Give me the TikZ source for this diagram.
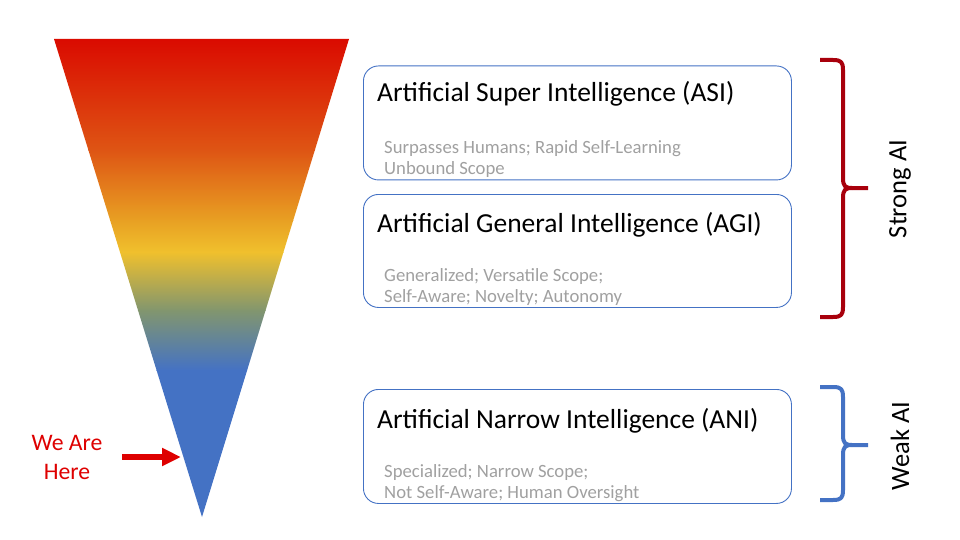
\documentclass[tikz,border=0pt]{standalone}
\usepackage{fontspec}
\setmainfont{Carlito}
\usetikzlibrary{arrows.meta}
\definecolor{cRed}{RGB}{218,10,0}
\definecolor{cOrR}{RGB}{222,85,20}
\definecolor{cOr}{RGB}{232,160,35}
\definecolor{cYel}{RGB}{240,192,45}
\definecolor{cGrn}{RGB}{130,150,110}
\definecolor{cBlue}{RGB}{68,114,196}
\definecolor{boxblue}{RGB}{68,114,196}
\definecolor{subgray}{RGB}{160,160,160}
\definecolor{braceRed}{RGB}{168,0,12}
\definecolor{hereRed}{RGB}{222,0,0}
\tikzset{
  aibox/.style={draw=boxblue, line width=0.9pt, rounded corners=15pt, minimum width=428pt, inner sep=0pt},
  titletext/.style={anchor=base west, inner sep=0pt, font=\fontsize{27.5}{32}\selectfont, text=black},
  subtext/.style={anchor=base west, inner sep=0pt, font=\fontsize{18.7}{20.5}\selectfont, text=subgray, align=left},
  bracetext/.style={rotate=90, inner sep=0pt, font=\fontsize{26.5}{30}\selectfont, text=black},
  brace/.style={line width=4pt, line cap=butt, line join=round}
}
\begin{document}
\begin{tikzpicture}[x=1pt,y=-1pt]
\useasboundingbox (0,0) rectangle (960,540);
% funnel
\begin{scope}
\clip (54,39) -- (349,39) -- (202,517) -- cycle;
\shade[top color=cRed, bottom color=cOrR] (40,38) rectangle (360,150.5);
\shade[top color=cOrR, bottom color=cOr] (40,150) rectangle (360,220.5);
\shade[top color=cOr, bottom color=cYel] (40,220) rectangle (360,252.5);
\shade[top color=cYel, bottom color=cGrn] (40,252) rectangle (360,310.5);
\shade[top color=cGrn, bottom color=cBlue] (40,310) rectangle (360,370.5);
\fill[cBlue] (40,370) rectangle (360,520);
\end{scope}
\coordinate (tip) at (181,457);
% we are here
\node[text=hereRed, font=\fontsize{23.7}{28.5}\selectfont, align=center, inner sep=0pt, anchor=base] (here) at (67,479) {We Are\\Here};
\coordinate (arrstart) at (122,457);
\draw[hereRed, line width=6.5pt, -{Triangle[length=19pt,width=17pt]}] (arrstart) -- (tip);
% boxes
\node[aibox, minimum height=114pt, anchor=north west] (asi) at (363,65.5) {};
\node[aibox, minimum height=113pt, anchor=north west] (agi) at (363,194) {};
\node[aibox, minimum height=114pt, anchor=north west] (ani) at (363,389) {};
\node[titletext] (asiT) at (377,102) {Artificial Super Intelligence (ASI)};
\node[subtext] (asiS) at (384,174.5) {Surpasses Humans; Rapid Self-Learning\\Unbound Scope};
\node[titletext] (agiT) at (377,232) {Artificial General Intelligence (AGI)};
\node[subtext] (agiS) at (384,302) {Generalized; Versatile Scope;\\Self-Aware; Novelty; Autonomy};
\node[titletext] (aniT) at (377,428) {Artificial Narrow Intelligence (ANI)};
\node[subtext] (aniS) at (384,498) {Specialized; Narrow Scope;\\Not Self-Aware; Human Oversight};
% braces
\draw[brace, braceRed] (820,60) -- (833,60) .. controls (841,60) and (843,62) .. (843,70) -- (843,178)
  .. controls (843,186) and (845,188) .. (852,188) -- (868,188);
\draw[brace, braceRed] (852,188) .. controls (845,188) and (843,190) .. (843,198) -- (843,307)
  .. controls (843,315) and (841,317) .. (833,317) -- (820,317);
\draw[brace, cBlue] (820,387) -- (833,387) .. controls (841,387) and (843,389) .. (843,397) -- (843,435)
  .. controls (843,443) and (845,445) .. (852,445) -- (868,445);
\draw[brace, cBlue] (852,445) .. controls (845,445) and (843,447) .. (843,455) -- (843,490)
  .. controls (843,498) and (841,500) .. (833,500) -- (820,500);
\node[bracetext] (strong) at (900,189) {Strong AI};
\node[bracetext] (weak) at (900,446) {Weak AI};
\end{tikzpicture}
\end{document}
